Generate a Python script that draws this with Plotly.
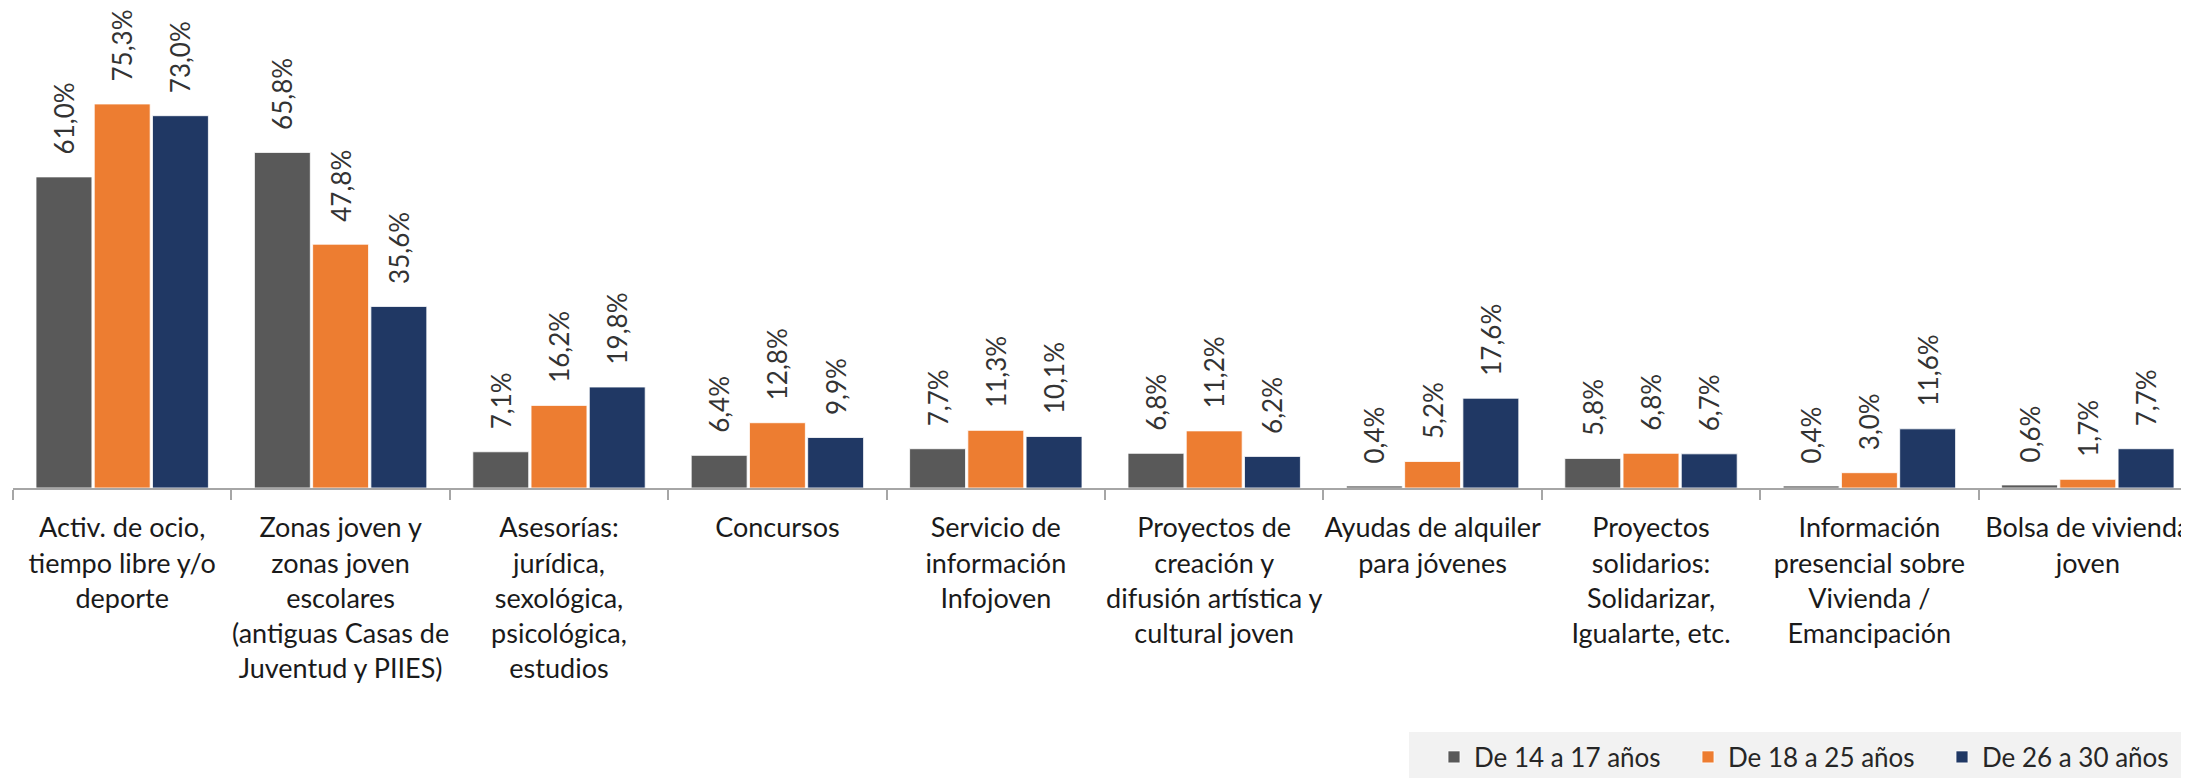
import plotly.graph_objects as go

categories = [
    "Activ. de ocio,<br>tiempo libre y/o<br>deporte",
    "Zonas joven y<br>zonas joven<br>escolares<br>(antiguas Casas de<br>Juventud y PIIES)",
    "Asesorías:<br>jurídica,<br>sexológica,<br>psicológica,<br>estudios",
    "Concursos",
    "Servicio de<br>información<br>Infojoven",
    "Proyectos de<br>creación y<br>difusión artística y<br>cultural joven",
    "Ayudas de alquiler<br>para jóvenes",
    "Proyectos<br>solidarios:<br>Solidarizar,<br>Igualarte, etc.",
    "Información<br>presencial sobre<br>Vivienda /<br>Emancipación",
    "Bolsa de vivienda<br>joven",
]

series_names = ["De 14 a 17 años", "De 18 a 25 años", "De 26 a 30 años"]
v_14_17 = [61.0, 65.8, 7.1, 6.4, 7.7, 6.8, 0.4, 5.8, 0.4, 0.6]
v_18_25 = [75.3, 47.8, 16.2, 12.8, 11.3, 11.2, 5.2, 6.8, 3.0, 1.7]
v_26_30 = [73.0, 35.6, 19.8, 9.9, 10.1, 6.2, 17.6, 6.7, 11.6, 7.7]
colors = ["#595959", "#ED7D31", "#203864"]

FONT = "Lato, 'Open Sans', sans-serif"
TXT = "#333333"

W, H = 2189, 778
ML, MB = 5, 298
plot_w = W - ML
plot_h = H - MB

fig = go.Figure()
for name, vals, col in zip(series_names, [v_14_17, v_18_25, v_26_30], colors):
    fig.add_trace(go.Bar(
        x=categories, y=vals, name=name,
        marker=dict(color=col, line=dict(color="rgba(255,255,255,0.8)", width=1)),
        texttemplate="\u2003%{y:.1f}%",
        textposition="outside", textangle=-90,
        textfont=dict(family=FONT, size=26, color=TXT),
        constraintext="none", cliponaxis=False,
    ))

fig.update_layout(
    width=W, height=H,
    margin=dict(l=ML, r=0, t=0, b=MB),
    paper_bgcolor="white", plot_bgcolor="white",
    barmode="group", bargap=0.2, bargroupgap=0.04,
    separators=",.",
    font=dict(family=FONT, size=26, color=TXT),
    showlegend=True,
    legend=dict(
        orientation="h", xref="container", yref="container",
        x=1426 / W, xanchor="left", y=29 / H, yanchor="middle",
        entrywidth=209, entrywidthmode="pixels",
        bgcolor="rgba(0,0,0,0)", font=dict(family=FONT, size=26, color="#262626"),
        itemclick=False,
    ),
    shapes=[dict(
        type="rect", xref="paper", yref="paper",
        x0=(1409 - 8 - ML) / plot_w, x1=1.01,
        y0=(480 - 732 + 8) / plot_h, y1=(480 - 800) / plot_h,
        fillcolor="#F2F2F2", line=dict(width=0), layer="below",
    )],
)
fig.update_xaxes(
    showline=True, linecolor="#A6A6A6", linewidth=2,
    ticks="outside", tickson="boundaries", ticklen=10, tickcolor="#A6A6A6", tickwidth=2,
    tickfont=dict(family=FONT, size=27, color="#1A1A1A"),
    ticklabelstandoff=15,
    tickangle=0, showgrid=False,
)
fig.update_yaxes(visible=False, range=[0, plot_h / 5.1], showgrid=False)

fig.write_html("out.html")
